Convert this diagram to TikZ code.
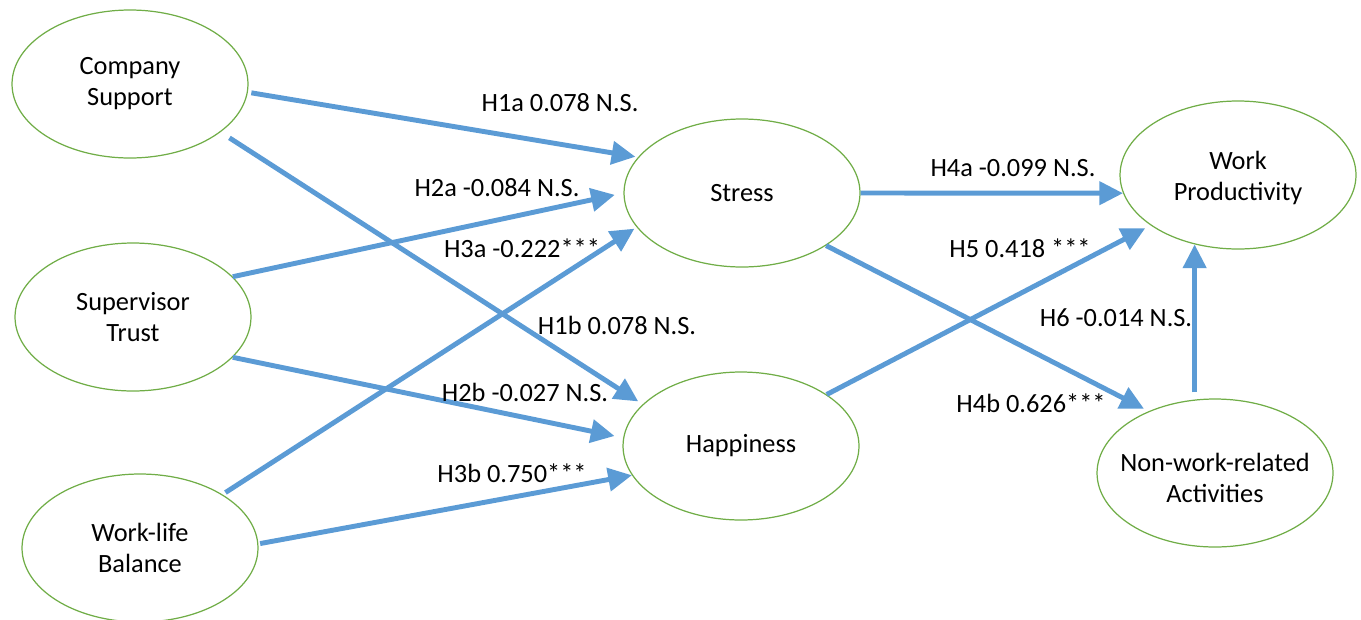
\documentclass[tikz,border=0pt]{standalone}
\usepackage{fontspec}
\setmainfont{Carlito}
\usetikzlibrary{shapes.geometric,arrows.meta}
\definecolor{lblue}{HTML}{5B9BD5}
\definecolor{lgreen}{HTML}{70AD47}
\begin{document}
\begin{tikzpicture}[x=0.02cm,y=-0.02cm,
  ell/.style={ellipse,draw=lgreen,line width=0.7pt,minimum width=4.72cm,minimum height=2.96cm,inner sep=0pt},
  etxt/.style={align=center,inner sep=0pt,font=\fontsize{15}{17.6}\selectfont},
  lab/.style={inner sep=0pt,font=\fontsize{15}{17.6}\selectfont},
  arr/.style={draw=lblue,line width=2.8pt,-{Triangle[length=13.5pt,width=13pt]}}]
\useasboundingbox (0,0) rectangle (1361,619);
% latent variables
\node[ell,label={[etxt]center:{Company\\Support}}] (cs) at (130,84) {};
\node[ell,label={[etxt]center:{Supervisor\\Trust}}] (sv) at (133,317) {};
\node[ell,label={[etxt]center:{Work-life\\Balance}}] (wl) at (140,548) {};
\node[ell,label={[etxt]center:{Stress}}] (st) at (742,193) {};
\node[ell,label={[etxt]center:{Happiness}}] (hp) at (741,446) {};
\node[ell,label={[etxt,yshift=-1.6pt]center:{Work\\Productivity}}] (wp) at (1238,175) {};
\node[ell,label={[etxt,yshift=-2.6pt]center:{Non-work-related\\Activities}}] (nw) at (1215,473) {};
% paths
\draw[arr,shorten <=2pt,shorten >=1.5pt] (cs.-4) -- (st.161);
\draw[arr,shorten <=6pt,shorten >=3pt] (cs.-28) -- (hp.157);
\draw[arr,shorten >=5pt] (sv.22) -- (st.180);
\draw[arr,shorten >=5pt] (sv.-22) -- (hp.176);
\draw[arr,shorten <=2pt,shorten >=1.5pt] (wl.33) -- (st.198);
\draw[arr,shorten <=1pt] (wl.2) -- (hp.195);
\draw[arr] (st.0) -- (wp.189);
\draw[arr,shorten >=3pt] (st.-32) -- (nw.137);
\draw[arr,shorten >=3.5pt] (hp.31) -- (wp.210);
\draw[arr,shorten <=3.5pt] (wp.238 |- nw.north) -- (wp.238);
% labels
\node[lab] (l1a) at (560,103) {H1a 0.078 N.S.};
\node[lab] (l2a) at (497,188) {H2a -0.084 N.S.};
\node[lab] (l3a) at (522,248) {H3a -0.222***};
\node[lab] (l1b) at (617,325) {H1b 0.078 N.S.};
\node[lab] (l2b) at (525,392) {H2b -0.027 N.S.};
\node[lab] (l3b) at (512,473) {H3b 0.750***};
\node[lab] (l4a) at (1013,168) {H4a -0.099 N.S.};
\node[lab] (l5) at (1020,248) {H5 0.418 ***};
\node[lab] (l6) at (1116,318) {H6 -0.014 N.S.};
\node[lab] (l4b) at (1031,403) {H4b 0.626***};
\end{tikzpicture}
\end{document}
